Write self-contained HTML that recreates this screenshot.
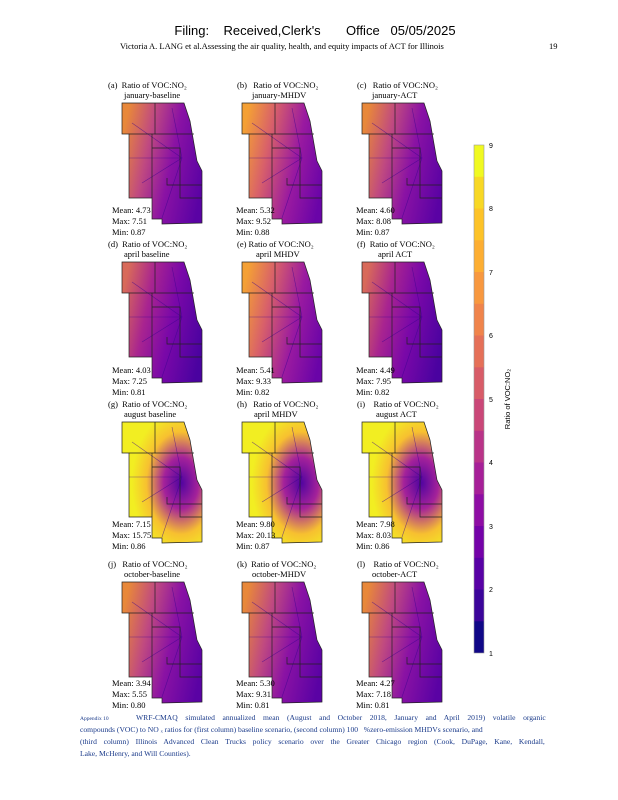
<!DOCTYPE html>
<html><head><meta charset="utf-8"><style>
html,body{margin:0;padding:0;background:#fff;}
svg{display:block;}
.t{font-family:"Liberation Serif",serif;font-size:8.5px;fill:#000;}
.s{font-family:"Liberation Serif",serif;font-size:8.5px;fill:#000;}
</style></head><body>
<svg width="618" height="800" viewBox="0 0 618 800" xmlns="http://www.w3.org/2000/svg">
<defs>
<clipPath id="cp"><path d="M0,0 L62,0 L68,18 L75,58 L80,68 L80,120 L40,121 L40,116 L30,116 L30,95 L7,95 L7,31 L0,31 Z"/></clipPath>
<linearGradient id="g1" x1="0" y1="0.3" x2="1" y2="0.6">
<stop offset="0" stop-color="#e8883a"/><stop offset="0.3" stop-color="#c04a80"/><stop offset="0.6" stop-color="#8a12a4"/><stop offset="1" stop-color="#5a02a4"/></linearGradient>
<linearGradient id="g2" x1="0" y1="0.3" x2="1" y2="0.6">
<stop offset="0" stop-color="#f4a035"/><stop offset="0.3" stop-color="#d8606a"/><stop offset="0.65" stop-color="#9a1aa0"/><stop offset="1" stop-color="#6a04a8"/></linearGradient>
<radialGradient id="g3" cx="0.72" cy="0.5" r="0.6">
<stop offset="0" stop-color="#5004a0"/><stop offset="0.35" stop-color="#a4229a"/><stop offset="0.7" stop-color="#f7c030"/><stop offset="1" stop-color="#f2ee22"/></radialGradient>
<linearGradient id="g4" x1="0" y1="0.3" x2="1" y2="0.6">
<stop offset="0" stop-color="#d86a5a"/><stop offset="0.3" stop-color="#a82490"/><stop offset="0.6" stop-color="#7a08a8"/><stop offset="1" stop-color="#4a02a0"/></linearGradient>
<g id="lines" fill="none" stroke="#222" stroke-width="0.7">
<path d="M0,0 L62,0 L68,18 L75,58 L80,68 L80,120 L40,121 L40,116 L30,116 L30,95 L7,95 L7,31 L0,31 Z"/>
<path d="M33,0 L33,31 L7,31"/><path d="M33,31 L72,31"/><path d="M30,31 L30,95"/>
<path d="M30,45 L58,45 L58,82 L80,82"/><path d="M45,75 L45,82 L58,82"/><path d="M58,82 L58,95 L80,95"/>
</g>
<g id="roads" fill="none" stroke="#3a0290" stroke-width="0.6" opacity="0.6">
<path d="M60,55 L10,20"/><path d="M60,55 L20,80"/><path d="M60,55 L40,115"/><path d="M60,55 L5,55"/><path d="M60,55 L50,5"/>
</g>
</defs>
<text x="315" y="35" text-anchor="middle" font-family="Liberation Sans,sans-serif" font-size="13">Filing:&#160;&#160;&#160;&#160;Received,Clerk's&#160;&#160;&#160;&#160;&#160;&#160;&#160;Office&#160;&#160;&#160;05/05/2025</text>
<text x="120" y="49" font-family="Liberation Serif,serif" font-size="8.5">Victoria A. LANG et al.Assessing the air quality, health, and equity impacts of ACT for Illinois</text>
<text x="549" y="49" font-family="Liberation Serif,serif" font-size="8.5">19</text>

<g transform="translate(122,103)"><rect width="82" height="122" fill="url(#g1)" clip-path="url(#cp)"/><use href="#roads" clip-path="url(#cp)"/><use href="#lines"/></g>
<g transform="translate(242,103)"><rect width="82" height="122" fill="url(#g2)" clip-path="url(#cp)"/><use href="#roads" clip-path="url(#cp)"/><use href="#lines"/></g>
<g transform="translate(362,103)"><rect width="82" height="122" fill="url(#g1)" clip-path="url(#cp)"/><use href="#roads" clip-path="url(#cp)"/><use href="#lines"/></g>
<g transform="translate(122,262)"><rect width="82" height="122" fill="url(#g4)" clip-path="url(#cp)"/><use href="#roads" clip-path="url(#cp)"/><use href="#lines"/></g>
<g transform="translate(242,262)"><rect width="82" height="122" fill="url(#g2)" clip-path="url(#cp)"/><use href="#roads" clip-path="url(#cp)"/><use href="#lines"/></g>
<g transform="translate(362,262)"><rect width="82" height="122" fill="url(#g4)" clip-path="url(#cp)"/><use href="#roads" clip-path="url(#cp)"/><use href="#lines"/></g>
<g transform="translate(122,422)"><rect width="82" height="122" fill="url(#g3)" clip-path="url(#cp)"/><use href="#roads" clip-path="url(#cp)"/><use href="#lines"/></g>
<g transform="translate(242,422)"><rect width="82" height="122" fill="url(#g3)" clip-path="url(#cp)"/><use href="#roads" clip-path="url(#cp)"/><use href="#lines"/></g>
<g transform="translate(362,422)"><rect width="82" height="122" fill="url(#g3)" clip-path="url(#cp)"/><use href="#roads" clip-path="url(#cp)"/><use href="#lines"/></g>
<g transform="translate(122,582)"><rect width="82" height="122" fill="url(#g1)" clip-path="url(#cp)"/><use href="#roads" clip-path="url(#cp)"/><use href="#lines"/></g>
<g transform="translate(242,582)"><rect width="82" height="122" fill="url(#g1)" clip-path="url(#cp)"/><use href="#roads" clip-path="url(#cp)"/><use href="#lines"/></g>
<g transform="translate(362,582)"><rect width="82" height="122" fill="url(#g1)" clip-path="url(#cp)"/><use href="#roads" clip-path="url(#cp)"/><use href="#lines"/></g>

<g class="t">
<text x="108" y="88" class="t">(a)&#160; Ratio of VOC:NO₂</text><text x="124" y="98" class="t">january-baseline</text>
<text x="237" y="88" class="t">(b)&#160;&#160; Ratio of VOC:NO₂</text><text x="252" y="98" class="t">january-MHDV</text>
<text x="357" y="88" class="t">(c)&#160;&#160; Ratio of VOC:NO₂</text><text x="372" y="98" class="t">january-ACT</text>
<text x="108" y="247" class="t">(d)&#160; Ratio of VOC:NO₂</text><text x="124" y="257" class="t">april baseline</text>
<text x="237" y="247" class="t">(e) Ratio of VOC:NO₂</text><text x="256" y="257" class="t">april MHDV</text>
<text x="357" y="247" class="t">(f)&#160; Ratio of VOC:NO₂</text><text x="378" y="257" class="t">april ACT</text>
<text x="108" y="407" class="t">(g)&#160; Ratio of VOC:NO₂</text><text x="124" y="417" class="t">august baseline</text>
<text x="237" y="407" class="t">(h)&#160;&#160; Ratio of VOC:NO₂</text><text x="254" y="417" class="t">april MHDV</text>
<text x="357" y="407" class="t">(i)&#160;&#160;&#160; Ratio of VOC:NO₂</text><text x="376" y="417" class="t">august ACT</text>
<text x="108" y="567" class="t">(j)&#160;&#160; Ratio of VOC:NO₂</text><text x="124" y="577" class="t">october-baseline</text>
<text x="237" y="567" class="t">(k)&#160; Ratio of VOC:NO₂</text><text x="252" y="577" class="t">october-MHDV</text>
<text x="357" y="567" class="t">(l)&#160;&#160;&#160; Ratio of VOC:NO₂</text><text x="372" y="577" class="t">october-ACT</text>
</g>
<g class="s">
<text x="112" y="213">Mean: 4.73</text><text x="112" y="224">Max: 7.51</text><text x="112" y="235">Min: 0.87</text>
<text x="236" y="213">Mean: 5.32</text><text x="236" y="224">Max: 9.52</text><text x="236" y="235">Min: 0.88</text>
<text x="356" y="213">Mean: 4.60</text><text x="356" y="224">Max: 8.08</text><text x="356" y="235">Min: 0.87</text>
<text x="112" y="373">Mean: 4.03</text><text x="112" y="384">Max: 7.25</text><text x="112" y="395">Min: 0.81</text>
<text x="236" y="373">Mean: 5.41</text><text x="236" y="384">Max: 9.33</text><text x="236" y="395">Min: 0.82</text>
<text x="356" y="373">Mean: 4.49</text><text x="356" y="384">Max: 7.95</text><text x="356" y="395">Min: 0.82</text>
<text x="112" y="527">Mean: 7.15</text><text x="112" y="538">Max: 15.75</text><text x="112" y="549">Min: 0.86</text>
<text x="236" y="527">Mean: 9.80</text><text x="236" y="538">Max: 20.13</text><text x="236" y="549">Min: 0.87</text>
<text x="356" y="527">Mean: 7.98</text><text x="356" y="538">Max: 8.03</text><text x="356" y="549">Min: 0.86</text>
<text x="112" y="686">Mean: 3.94</text><text x="112" y="697">Max: 5.55</text><text x="112" y="708">Min: 0.80</text>
<text x="236" y="686">Mean: 5.30</text><text x="236" y="697">Max: 9.31</text><text x="236" y="708">Min: 0.81</text>
<text x="356" y="686">Mean: 4.27</text><text x="356" y="697">Max: 7.18</text><text x="356" y="708">Min: 0.81</text>
</g>

<g>
<rect x="474" y="145.0" width="10" height="32.2" fill="#f0f921"/>
<rect x="474" y="176.8" width="10" height="32.2" fill="#f8d825"/>
<rect x="474" y="208.5" width="10" height="32.2" fill="#fdc328"/>
<rect x="474" y="240.3" width="10" height="32.2" fill="#fdae32"/>
<rect x="474" y="272.0" width="10" height="32.2" fill="#f8983f"/>
<rect x="474" y="303.8" width="10" height="32.2" fill="#f0844b"/>
<rect x="474" y="335.5" width="10" height="32.2" fill="#e57058"/>
<rect x="474" y="367.3" width="10" height="32.2" fill="#d85c68"/>
<rect x="474" y="399.0" width="10" height="32.2" fill="#ca4778"/>
<rect x="474" y="430.8" width="10" height="32.2" fill="#b93388"/>
<rect x="474" y="462.5" width="10" height="32.2" fill="#a61f98"/>
<rect x="474" y="494.3" width="10" height="32.2" fill="#8e0da4"/>
<rect x="474" y="526.0" width="10" height="32.2" fill="#7402a8"/>
<rect x="474" y="557.8" width="10" height="32.2" fill="#5801a5"/>
<rect x="474" y="589.5" width="10" height="32.2" fill="#3b049a"/>
<rect x="474" y="621.3" width="10" height="31.7" fill="#100787"/>
<rect x="474" y="145" width="10" height="508" fill="none" stroke="#999" stroke-width="0.6"/>
<g font-family="Liberation Sans,sans-serif" font-size="7">
<text x="489" y="148">9</text><text x="489" y="211">8</text><text x="489" y="275">7</text><text x="489" y="338">6</text>
<text x="489" y="402">5</text><text x="489" y="465">4</text><text x="489" y="529">3</text><text x="489" y="592">2</text><text x="489" y="656">1</text>
</g>
<text transform="translate(510,399) rotate(-90)" text-anchor="middle" font-family="Liberation Sans,sans-serif" font-size="7.5">Ratio of VOC:NO₂</text>
</g>

<g font-family="Liberation Serif,serif" font-size="7.6" fill="#1a3a8a">
<text x="80" y="720" font-size="5.5">Appendix 10</text>
<text x="136" y="720" word-spacing="5.7">WRF-CMAQ simulated annualized mean (August and October 2018, January and April 2019) volatile organic</text>
<text x="80" y="732">compounds (VOC) to NO ₓ ratios for (first column) baseline scenario, (second column) 100&#160;&#160; %zero-emission MHDVs scenario, and</text>
<text x="80" y="744" word-spacing="4.8">(third column) Illinois Advanced Clean Trucks policy scenario over the Greater Chicago region (Cook, DuPage, Kane, Kendall,</text>
<text x="80" y="756">Lake, McHenry, and Will Counties).</text>
</g>
</svg>
</body></html>
